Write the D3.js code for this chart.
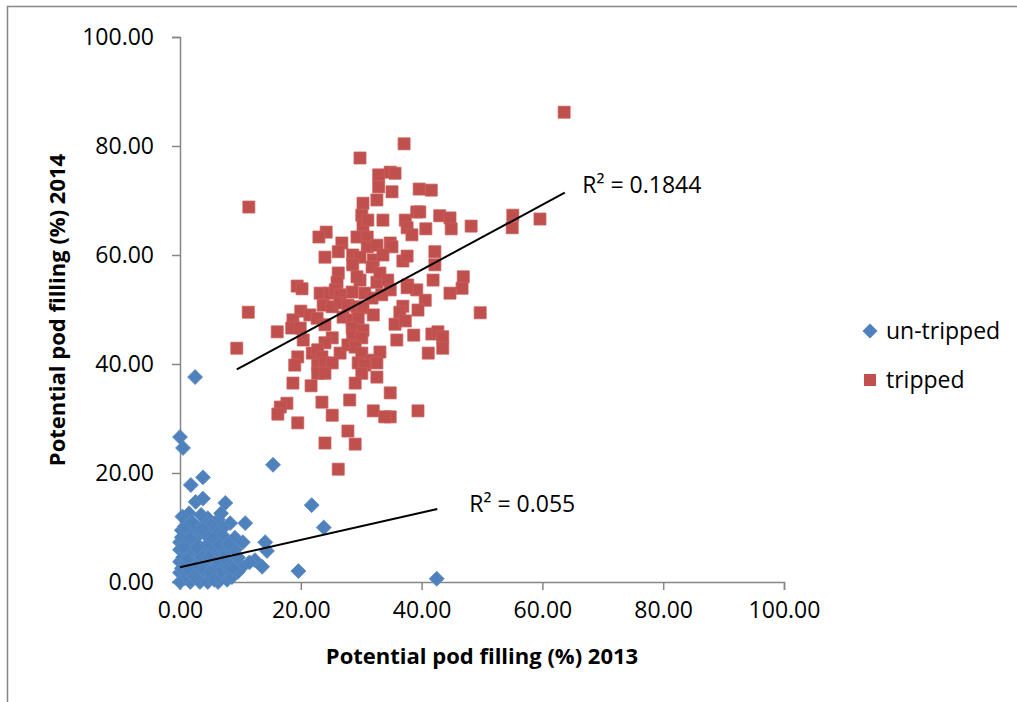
<!DOCTYPE html>
<html>
<head>
<meta charset="utf-8">
<script src="https://cdn.jsdelivr.net/npm/d3@7"></script>
<style>
  body { margin: 0; background: #fff; }
  svg { display: block; font-family: "Open Sans", sans-serif; }
</style>
</head>
<body>
<div id="chart"></div>
<script>
// values
var seriesNames = ["un-tripped", "tripped"];
var xTicks = [0, 20, 40, 60, 80, 100];
var yTicks = [0, 20, 40, 60, 80, 100];
var xTitle = "Potential pod filling (%) 2013";
var yTitle = "Potential pod filling (%) 2014";

var untripped = [
  [2.5,37.6],[0,26.6],[0.5,24.6],[15.4,21.5],[1.8,17.8],[3.8,19.2],[2.6,14.7],[3.8,15.3],
  [7.5,14.5],[21.8,14.1],[23.8,10.0],[19.6,2.0],[42.5,0.6],[10.8,10.8],[14.1,7.3],[14.4,5.7],
  [12.4,4.0],[13.6,2.8],[10.3,2.8],[0.3,9.5],[1.7,10.5],[4.6,11.7],[6.3,11.4],[8.3,10.8],
  [7.1,9.9],[5.8,9.5],[3.0,8.6],[4.6,8.3],[7.0,8.6],[9.1,8.1],[10.4,7.3],[0,7.3],[1.3,6.8],
  [2.5,7.3],[0,5.9],[0.8,5.3],[2.0,5.5],[3.0,5.9],[4.1,6.4],[5.3,5.5],[6.3,5.3],[7.5,5.5],
  [9.1,5.9],[8.3,3.5],[7.5,2.2],[0,3.7],[0.8,2.8],[2.0,3.5],[3.0,3.7],[4.1,3.5],[5.8,2.6],
  [7.0,3.1],[0,1.7],[0.8,0.7],[2.0,0.9],[3.0,1.7],[4.1,0.7],[5.3,0.9],[6.3,0.7],[7.8,0.4],
  [8.6,0.9],[0,0],[1.7,0],[3.3,0],[4.6,0],[6.3,0],[4.3,10.8],[1.2,9.2],[5.0,7.0],[2.2,2.2],
  [0.5,4.5],[3.5,4.8],[1.0,1.2],[11.5,3.6],[0.3,8.2],[6.0,4.2],[1.5,12.6],[2.9,10.0],
  [9.6,1.9],[6.5,1.6],[0.8,10.2],[2.0,11.0],[3.5,12.3],[5.2,10.5],[6.8,12.6],[0.4,12.0],
  [1.6,8.0],[3.8,9.7],[5.5,8.0],[6.5,6.8],[8.0,7.0],[2.8,6.3],[4.8,4.5],[1.2,4.2],[0.3,2.5],
  [2.6,2.8],[3.8,2.2],[5.0,1.8],[7.3,4.5],[8.8,2.5],[1.4,2.0],[0.6,6.5],[9.6,4.5],[2.4,1.1],
  [5.7,0.4]
];

var tripped = [
  [63.6,86.2],[37.1,80.4],[29.8,77.8],[11.4,68.8],[32.9,74.7],[34.8,75.2],[35.6,75.0],[32.9,72.5],
  [35.1,71.6],[39.6,72.1],[41.6,71.9],[30.3,69.5],[32.6,70.1],[30.1,67.3],[30.3,65.5],[31.1,66.4],
  [33.6,66.4],[37.3,66.4],[37.6,65.0],[38.4,63.7],[39.2,67.9],[39.7,67.9],[40.7,64.8],[43.0,67.2],
  [44.7,66.8],[44.9,64.8],[48.2,65.3],[55.1,67.3],[55.0,65.0],[59.6,66.6],[24.2,64.2],[23.0,63.3],
  [29.3,63.3],[31.0,63.3],[31.0,61.5],[32.6,61.8],[34.8,62.2],[35.1,61.5],[26.8,62.2],[26.2,60.6],
  [24.0,59.6],[28.6,60.0],[29.8,59.6],[32.0,59.1],[31.8,57.8],[33.6,60.0],[36.9,58.9],[37.6,59.8],
  [42.2,60.6],[42.2,58.2],[46.9,56.0],[46.7,53.9],[19.4,54.3],[20.2,53.8],[41.9,55.4],[44.7,53.0],
  [26.2,56.7],[26.0,55.0],[29.8,55.4],[32.6,55.0],[33.1,56.7],[37.7,54.5],[39.2,53.6],[23.2,53.0],
  [24.8,53.0],[28.5,53.2],[28.6,58.2],[29.3,56.0],[34.4,55.4],[34.8,53.6],[37.6,54.0],[40.6,51.7],
  [39.4,49.9],[49.7,49.4],[36.9,50.6],[36.4,49.5],[35.6,47.3],[37.3,47.9],[35.9,44.4],[38.7,45.3],
  [41.7,45.5],[42.7,45.9],[43.5,45.0],[43.5,42.9],[41.1,42.0],[34.8,34.7],[34.8,30.3],[39.4,31.4],
  [25.7,53.6],[26.5,52.7],[30.6,53.0],[31.8,52.1],[33.4,52.7],[23.7,50.8],[25.2,50.5],[26.5,51.2],
  [27.8,50.8],[29.3,50.5],[30.3,50.3],[11.3,49.5],[20.0,49.7],[21.5,49.0],[18.7,48.1],[18.5,46.6],
  [19.9,46.6],[22.7,48.4],[24.0,47.2],[27.0,48.6],[28.5,48.1],[29.5,48.4],[32.0,49.0],[16.1,45.9],
  [20.4,44.4],[25.2,44.8],[24.0,43.9],[28.5,46.6],[30.3,46.2],[28.6,45.0],[30.1,44.8],[9.4,42.9],
  [19.5,41.3],[21.9,42.0],[22.8,42.6],[23.5,41.3],[26.5,42.0],[27.8,43.5],[29.0,43.1],[30.1,42.0],
  [31.8,40.7],[33.1,42.2],[19.0,39.8],[22.8,39.8],[24.0,40.2],[25.2,40.2],[29.5,40.2],[30.6,39.8],
  [32.6,40.2],[22.8,38.3],[24.0,38.3],[30.1,38.3],[32.6,37.6],[18.7,36.5],[21.7,36.0],[29.0,36.5],
  [17.7,32.8],[16.6,32.1],[16.2,30.8],[23.5,33.0],[28.1,33.4],[25.2,30.6],[32.0,31.4],[33.9,30.3],
  [19.5,29.2],[27.8,27.7],[24.0,25.5],[29.0,25.3],[26.2,20.7]
];

// linear trendlines: [slope, intercept, xStart, xEnd]
var trendUntripped = [0.251, 2.7, 0, 42.6];
var trendTripped = [0.597, 33.4, 9.4, 63.7];
var r2Labels = ["R\u00B2 = 0.055", "R\u00B2 = 0.1844"];

var W = 1017, H = 702;
var blue = "#4F81BD", red = "#C0504D", axisGrey = "#868686";

var svg = d3.select("#chart").append("svg")
    .attr("width", W)
    .attr("height", H);

// outer chart border
svg.append("rect")
    .attr("x", 7.5).attr("y", 6.5)
    .attr("width", W + 20).attr("height", H + 20)
    .attr("fill", "#fff")
    .attr("stroke", axisGrey)
    .attr("stroke-width", 1.5);

var x = d3.scaleLinear().domain([0, 100]).range([180, 784]);
var y = d3.scaleLinear().domain([0, 100]).range([582, 37]);
var fmt = d3.format(".2f");

var xAxis = svg.append("g")
    .attr("transform", "translate(0,582)")
    .call(d3.axisBottom(x).tickValues(xTicks).tickFormat(fmt).tickSize(8).tickPadding(12));
var yAxis = svg.append("g")
    .attr("transform", "translate(180,0)")
    .call(d3.axisLeft(y).tickValues(yTicks).tickFormat(fmt).tickSize(8).tickPadding(18));

[xAxis, yAxis].forEach(function(g) {
  g.select(".domain").attr("stroke", axisGrey).attr("stroke-width", 1.5);
  g.selectAll(".tick line").attr("stroke", axisGrey).attr("stroke-width", 1.5);
  g.selectAll(".tick text")
      .attr("fill", "#000")
      .style("font-size", "23px")
      .style("font-family", "'Open Sans', sans-serif");
});

// axis titles
svg.append("text")
    .attr("x", 482).attr("y", 664)
    .attr("text-anchor", "middle")
    .style("font-size", "22px")
    .style("font-weight", "bold")
    .text(xTitle);

svg.append("text")
    .attr("transform", "translate(65,310) rotate(-90)")
    .attr("text-anchor", "middle")
    .style("font-size", "22px")
    .style("font-weight", "bold")
    .text(yTitle);

var diamond = d3.symbol().type(d3.symbolSquare).size(112);
var square = d3.symbol().type(d3.symbolSquare).size(144);

svg.append("g").selectAll("path")
    .data(untripped)
  .enter().append("path")
    .attr("d", diamond)
    .attr("transform", d => `translate(${x(d[0])},${y(d[1])}) rotate(45)`)
    .attr("fill", blue)
    .attr("stroke", "#5b8cc6")
    .attr("stroke-width", 0.8);

svg.append("g").selectAll("path")
    .data(tripped)
  .enter().append("path")
    .attr("d", square)
    .attr("transform", d => `translate(${x(d[0])},${y(d[1])})`)
    .attr("fill", red)
    .attr("stroke", "#c95e5b")
    .attr("stroke-width", 0.8);

// trendlines
[trendUntripped, trendTripped].forEach(function(t) {
  svg.append("line")
      .attr("x1", x(t[2])).attr("y1", y(t[0] * t[2] + t[1]))
      .attr("x2", x(t[3])).attr("y2", y(t[0] * t[3] + t[1]))
      .attr("stroke", "#000")
      .attr("stroke-width", 2);
});

svg.append("text")
    .attr("x", x(47.9)).attr("y", y(12.9))
    .style("font-size", "23px")
    .text(r2Labels[0]);
svg.append("text")
    .attr("x", x(66.6)).attr("y", y(71.3))
    .style("font-size", "23px")
    .text(r2Labels[1]);

// legend
var legend = svg.append("g");
legend.append("path")
    .attr("d", diamond)
    .attr("transform", "translate(870,331) rotate(45)")
    .attr("fill", blue);
legend.append("text")
    .attr("x", 886).attr("y", 331).attr("dy", "0.35em")
    .style("font-size", "23px")
    .text(seriesNames[0]);
legend.append("path")
    .attr("d", square)
    .attr("transform", "translate(870,380)")
    .attr("fill", red);
legend.append("text")
    .attr("x", 886).attr("y", 380).attr("dy", "0.35em")
    .style("font-size", "23px")
    .text(seriesNames[1]);
</script>
</body>
</html>
